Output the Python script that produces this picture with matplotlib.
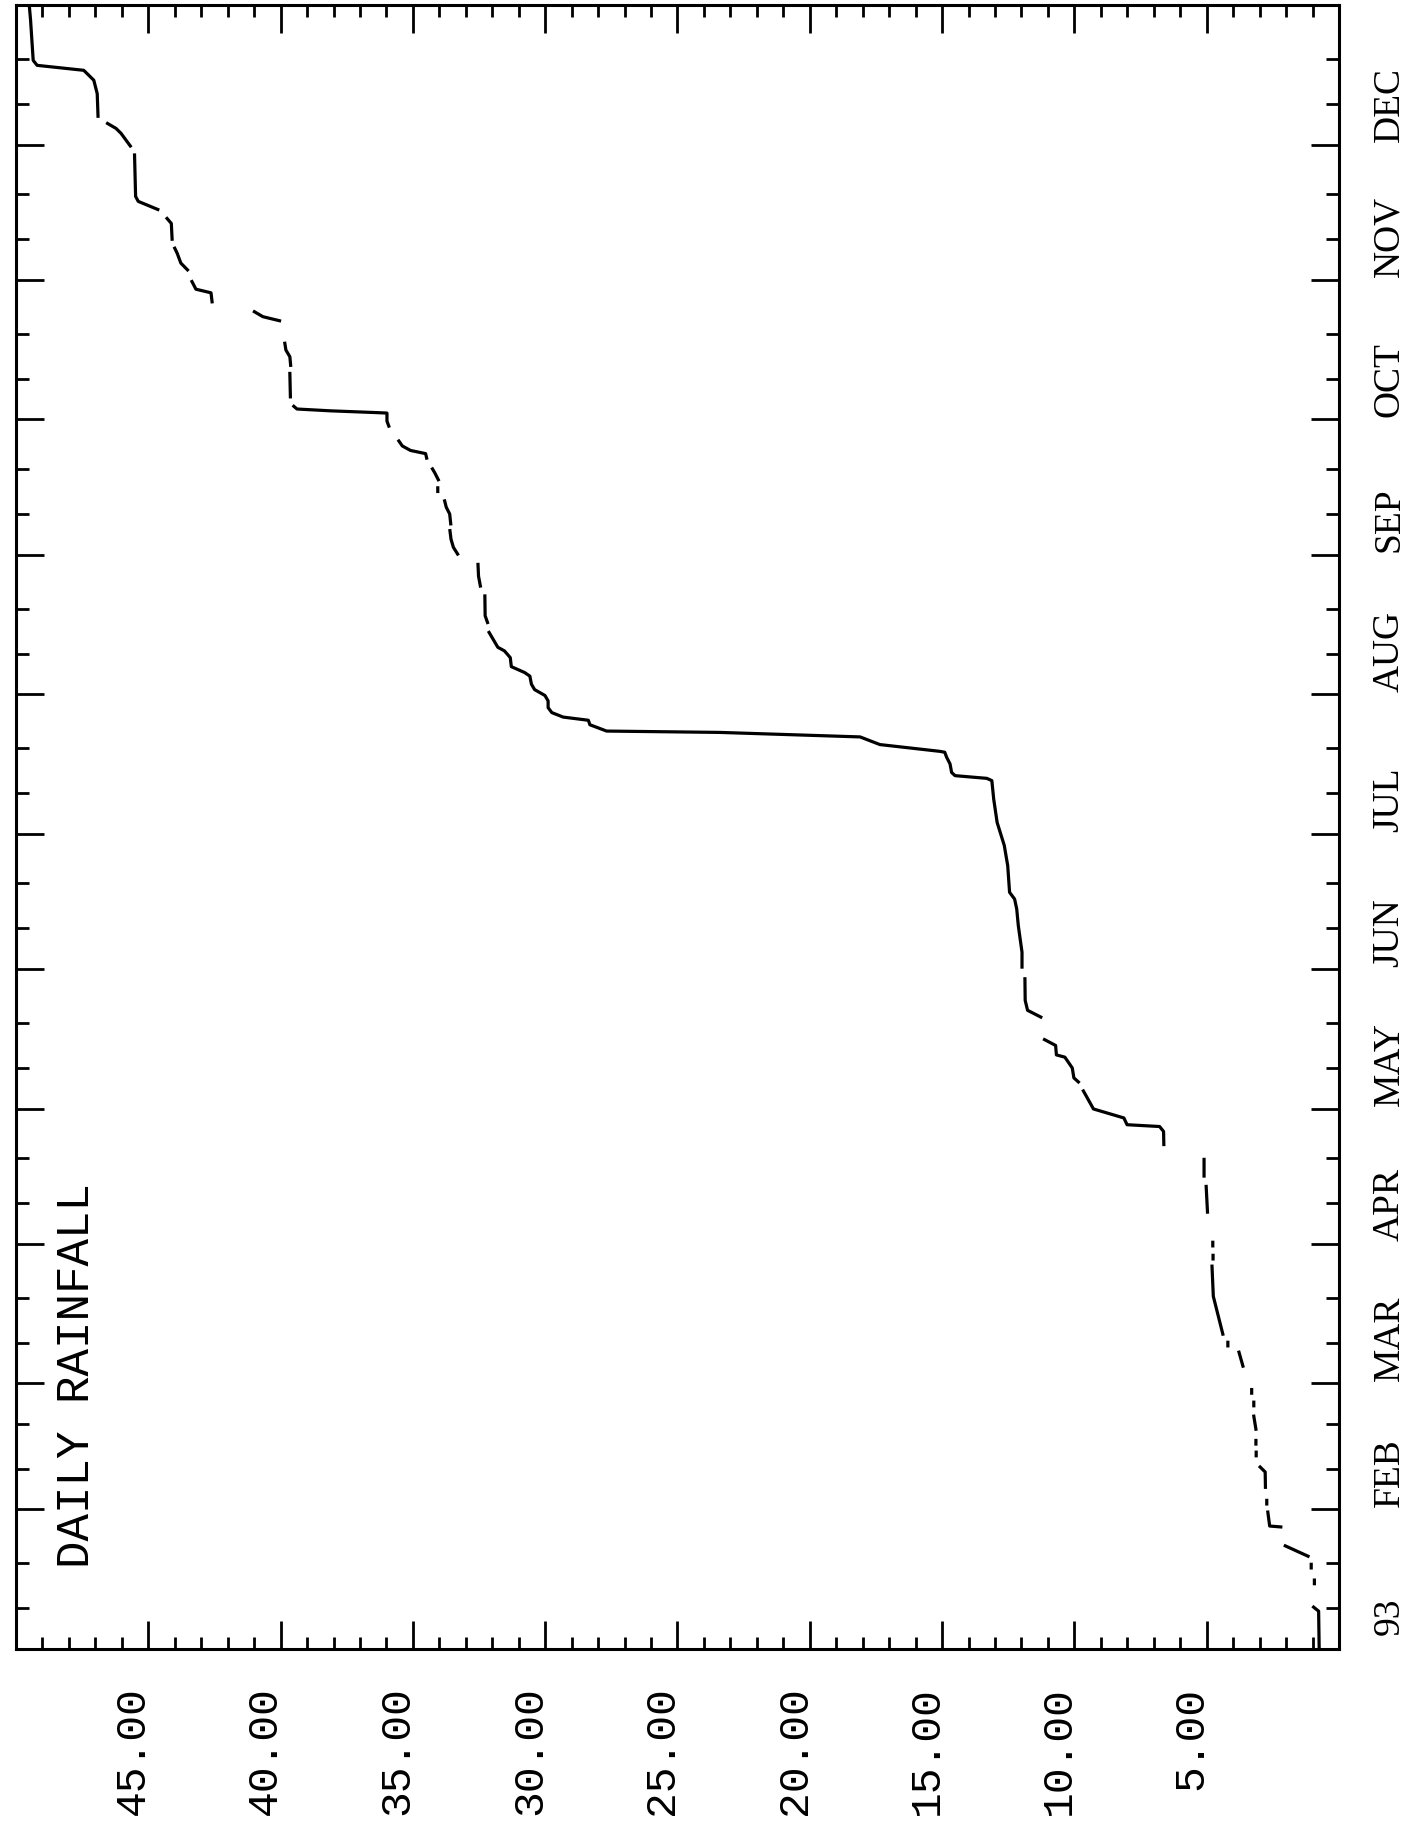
import numpy as np
import matplotlib
matplotlib.use("Agg")
import matplotlib.pyplot as plt
import matplotlib.transforms as mtransforms

nan = np.nan

# running rainfall total for 1993, day of year (0 = 1 Jan) against total
# nan marks the places where the plotter trace breaks off
days = [0.4, 8.4, 9.3, nan,
        14.5, 15.3, nan, 18.0, 18.8, nan,
        20.6, 22.9, nan,
        27.1, 27.3, 30.4, nan, 32.2, 33.0, nan,
        35.9, 39.3, 40.4, nan, 42.9, 43.7, nan, 45.5, 46.3, nan,
        48.8, 51.7, nan, 54.0, 54.8, nan, 56.8, 57.6, nan,
        62.8, 65.9, nan, 67.3, 68.1, nan,
        69.9, 78.3, 85.0, nan, 86.6, 87.4, nan, 89.5, 90.3, nan,
        97.0, 102.7, nan,
        105.0, 108.7, nan,
        112.0, 114.9, 116.0, 116.4, 117.9, 119.9, 123.9, nan,
        125.9, 126.8, 129.0, 131.4, 131.9, 134.0, 135.3, nan,
        140.3, 141.8, 144.0, 148.8, nan,
        151.4, 154.7, 160.6, 164.3, 166.5, 168.0, 173.9, 178.4, 183.5, 188.7,
        192.8, 193.3, 193.9, 194.6, 196.5, 198.0, 199.1, 199.3, 200.8, 202.5,
        203.5, 203.8, 205.2, 206.2, 206.9, 207.9, 209.0, 210.5, 211.7, 213.0,
        214.2, 216.0, 216.8, 218.1, 220.1, 221.6, 222.4, 225.7, nan,
        227.9, 229.4, 233.8, nan,
        236.0, 238.2, 240.8, nan,
        243.1, 244.6, 246.4, 248.3, nan,
        249.8, 252.0, 253.5, 254.9, nan, 257.0, 257.8, nan,
        259.6, 261.1, 262.0, nan,
        264.4, 265.4, 266.1, 267.1, 268.2, nan,
        271.5, 272.6, 274.4, 274.5, 274.9, 275.3, 275.9, nan,
        278.0, 283.2, nan,
        285.0, 286.9, 288.4, 289.9, nan,
        294.9, 295.8, 296.9, nan,
        299.1, 301.1, 301.9, 303.6, nan,
        306.2, 307.7, 309.9, 311.0, nan,
        313.0, 316.5, 317.6, nan,
        319.6, 321.4, 322.5, 331.7, nan,
        333.7, 336.5, 337.6, 338.7, nan,
        340.3, 345.3, 348.3, 350.5, 351.6, 352.7, 361.7, 365.0]

rain = [0.75, 0.77, 0.96, nan,
        0.93, 0.93, nan, 1.05, 1.05, nan,
        1.17, 2.03, nan,
        2.20, 2.62, 2.69, nan, 2.73, 2.73, nan,
        2.78, 2.79, 2.98, nan, 3.13, 3.13, nan, 3.14, 3.14, nan,
        3.14, 3.22, nan, 3.22, 3.22, nan, 3.30, 3.30, nan,
        3.63, 3.78, nan, 4.20, 4.20, nan,
        4.39, 4.75, 4.80, nan, 4.76, 4.76, nan, 4.77, 4.77, nan,
        4.97, 5.02, nan,
        5.10, 5.10, nan,
        6.62, 6.63, 6.78, 8.01, 8.13, 9.28, 9.66, nan,
        9.85, 10.02, 10.08, 10.36, 10.68, 10.71, 11.13, nan,
        11.27, 11.77, 11.86, 11.87, nan,
        11.98, 11.98, 12.12, 12.18, 12.26, 12.45, 12.52, 12.65, 12.92, 13.05,
        13.12, 13.31, 14.51, 14.64, 14.70, 14.83, 14.90, 15.09, 17.35, 18.10,
        23.40, 27.68, 28.31, 28.37, 29.32, 29.75, 29.89, 29.89, 30.01, 30.40,
        30.52, 30.58, 30.78, 31.28, 31.32, 31.54, 31.79, 32.12, nan,
        32.18, 32.27, 32.28, nan,
        32.45, 32.52, 32.54, nan,
        33.31, 33.47, 33.56, 33.60, nan,
        33.57, 33.61, 33.74, 33.80, nan, 34.06, 34.06, nan,
        34.04, 34.17, 34.26, nan,
        34.48, 34.52, 35.09, 35.40, 35.53, nan,
        35.91, 35.98, 35.98, 36.36, 38.12, 39.38, 39.50, nan,
        39.63, 39.65, nan,
        39.62, 39.65, 39.80, 39.84, nan,
        40.04, 40.67, 40.99, nan,
        42.59, 42.63, 43.20, 43.35, nan,
        43.52, 43.77, 43.91, 44.00, nan,
        44.10, 44.13, 44.29, nan,
        44.64, 45.38, 45.48, 45.52, nan,
        45.68, 46.03, 46.22, 46.54, nan,
        46.90, 46.93, 47.06, 47.44, 49.20, 49.35, 49.45, 49.50]

month_starts = [0, 31, 59, 90, 120, 151, 181, 212, 243, 273, 304, 334, 365]
month_names = ["93", "FEB", "MAR", "APR", "MAY", "JUN",
               "JUL", "AUG", "SEP", "OCT", "NOV", "DEC"]
rain_ticks = [5, 10, 15, 20, 25, 30, 35, 40, 45]

W, H = 1409, 1822
fig = plt.figure(figsize=(W / 100, H / 100), dpi=100)
ax = fig.add_axes([16 / W, 173 / H, 1323 / W, 1644 / H])

ax.plot(rain, days, color="black", lw=2.3)

ax.set_xlim(50, 0)
ax.set_ylim(0, 365)

for sp in ax.spines.values():
    sp.set_linewidth(2.2)

# rainfall scale along the bottom, read sideways
ax.set_xticks(rain_ticks, labels=[f"{v:.2f}" for v in rain_ticks],
              rotation=90, fontfamily="Liberation Mono", fontsize=31)
ax.set_xticks(np.arange(0, 51, 1), minor=True)
ax.tick_params(axis="x", which="major", direction="in", length=20, width=2,
               top=True, bottom=True, pad=27)
ax.tick_params(axis="x", which="minor", direction="in", length=8.6, width=2,
               top=True, bottom=True)
shift = mtransforms.ScaledTranslation(-11 / 72, 0, fig.dpi_scale_trans)
for lab in ax.get_xticklabels():
    lab.set_transform(lab.get_transform() + shift)

# months: long tick on the 1st, short ticks on the 10th and 20th
ax.set_yticks(month_starts)
dekads = [s + k for s in month_starts[:12] for k in (9, 19)]
ax.set_yticks(dekads, minor=True)
ax.tick_params(axis="y", which="major", direction="in", length=20, width=2,
               left=True, right=True, labelleft=False)
ax.tick_params(axis="y", which="minor", direction="in", length=9.4, width=2,
               left=True, right=True)

trans = mtransforms.blended_transform_factory(ax.transAxes, ax.transData)
label_pos = [s + 0.5 for s in month_starts[:12]]
label_pos[0] = 3.0
for name, pos in zip(month_names, label_pos):
    ax.text(1.025, pos, name, transform=trans, rotation=90, ha="left",
            va="bottom", fontfamily="Liberation Serif", fontsize=27)

ax.text(0.046, 0.049, "DAILY RAINFALL", transform=ax.transAxes, rotation=90,
        ha="center", va="bottom", fontfamily="Liberation Mono", fontsize=33)

fig.savefig("out.png", dpi=100)
